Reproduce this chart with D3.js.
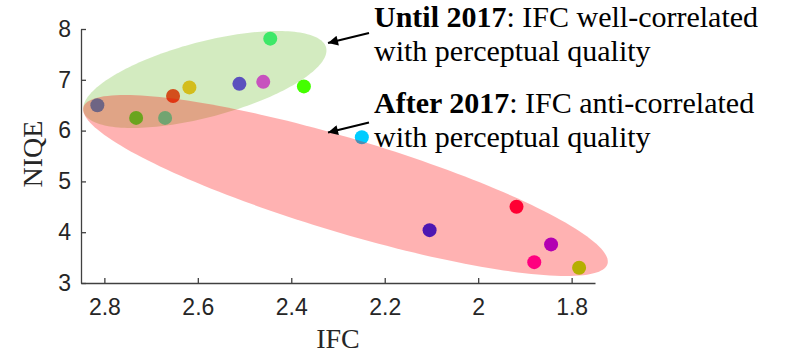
<!DOCTYPE html>
<html>
<head>
<meta charset="utf-8">
<script src="https://cdn.jsdelivr.net/npm/d3@7"></script>
<style>
  body { margin: 0; background: #fff; }
  svg { display: block; }
</style>
</head>
<body>
<svg id="chart"></svg>
<script>
// IFC vs NIQE for each method
const ifc  = [2.815, 2.732, 2.670, 2.653, 2.618, 2.511, 2.460, 2.445, 2.373, 2.249, 2.104, 1.918, 1.844, 1.880, 1.784];
const niqe = [6.50, 6.25, 6.25, 6.68, 6.85, 6.92, 6.96, 7.81, 6.87, 5.87, 4.04, 4.50, 3.76, 3.41, 3.30];
const pointColors = ['#187efc', '#0eff2c', '#1effd5', '#ff1f15', '#ffbd15', '#5422fc', '#ee25fc', '#2afb81',
  '#44ff00', '#00ccff', '#0022ff', '#ff0049', '#9200ff', '#ff00b7', '#95fb00'];

const xTicks = [2.8, 2.6, 2.4, 2.2, 2, 1.8];
const yTicks = [3, 4, 5, 6, 7, 8];

// ellipses: centre (IFC, NIQE), major and minor half-axis vectors in data units
const groups = ['until2017', 'after2017'];
const ellCentre = [[2.585, 7.006], [2.284, 4.919]];
const ellMajor = [[-0.2595, 0.630], [-0.5607, -1.545]];
const ellMinor = [[-0.0206, -0.717], [0.0289, -0.886]];
const ellColor = ['rgb(108,188,45)', 'rgb(255,0,0)'];

const labelsBold = ['Until 2017', 'After 2017'];
const labelsRest = [': IFC well-correlated', ': IFC anti-correlated'];
const labelsLine2 = ['with perceptual quality', 'with perceptual quality'];

const width = 789, height = 360;
const margin = { top: 29, left: 81, right: 194, bottom: 77 };

var svg = d3.select('#chart').attr('width', width).attr('height', height);

var x = d3.scaleLinear().domain([2.85, 1.75]).range([margin.left, width - margin.right]);
var y = d3.scaleLinear().domain([3, 8]).range([height - margin.bottom, margin.top]);

// points first, the translucent ellipses sit on top of them
svg.append('g')
    .selectAll('circle')
    .data(ifc)
    .enter()
    .append('circle')
    .attr('cx', d => x(d))
    .attr('cy', (d, i) => y(niqe[i]))
    .attr('r', 7)
    .attr('fill', (d, i) => pointColors[i]);

var t = d3.range(0, 2 * Math.PI, Math.PI / 90);
var ellLine = d3.line().curve(d3.curveLinearClosed);
svg.append('g')
    .selectAll('path')
    .data(groups)
    .enter()
    .append('path')
    .attr('d', (g, i) => ellLine(t.map(a => [
        x(ellCentre[i][0] + ellMajor[i][0] * Math.cos(a) + ellMinor[i][0] * Math.sin(a)),
        y(ellCentre[i][1] + ellMajor[i][1] * Math.cos(a) + ellMinor[i][1] * Math.sin(a))
    ])))
    .attr('fill', (g, i) => ellColor[i])
    .attr('fill-opacity', 0.3);

// axes, MATLAB style: ticks pointing inwards
var axisColor = '#404040';
var xAxis = svg.append('g')
    .attr('transform', `translate(0,${height - margin.bottom})`)
    .call(d3.axisBottom(x).tickValues(xTicks).tickSizeInner(-5).tickSizeOuter(0).tickPadding(16).tickFormat(d3.format('')));
var yAxis = svg.append('g')
    .attr('transform', `translate(${margin.left},0)`)
    .call(d3.axisLeft(y).tickValues(yTicks).tickSizeInner(-5).tickSizeOuter(0).tickPadding(10).tickFormat(d3.format('')));

[xAxis, yAxis].forEach(function (a) {
    a.select('.domain').attr('stroke', axisColor).attr('stroke-width', 1.3);
    a.selectAll('.tick line').attr('stroke', axisColor).attr('stroke-width', 1.3);
    a.selectAll('.tick text')
        .attr('fill', '#262626')
        .style('font-family', '"Liberation Sans", Arial, sans-serif')
        .style('font-size', '23px');
});

var serif = '"Liberation Serif", "Times New Roman", serif';
svg.append('text')
    .attr('x', 338).attr('y', 348)
    .attr('text-anchor', 'middle')
    .style('font-family', serif).style('font-size', '28px').attr('fill', '#262626')
    .text('IFC');
svg.append('text')
    .attr('transform', 'translate(42,154) rotate(-90)')
    .attr('text-anchor', 'middle')
    .style('font-family', serif).style('font-size', '28px').attr('fill', '#262626')
    .text('NIQE');

// annotations with arrows
svg.append('defs').append('marker')
    .attr('id', 'head')
    .attr('viewBox', '0 0 10 10')
    .attr('refX', 10).attr('refY', 5)
    .attr('markerWidth', 14).attr('markerHeight', 10)
    .attr('markerUnits', 'userSpaceOnUse')
    .attr('orient', 'auto')
    .append('path')
    .attr('d', 'M0,0 L10,5 L0,10 Z')
    .attr('fill', '#000');

var note = svg.append('g').style('font-family', serif).style('font-size', '30px');
groups.forEach(function (g, i) {
    var top = 27 + i * 86;
    var line1 = note.append('text').attr('x', 374).attr('y', top).attr('fill', '#000');
    line1.append('tspan').attr('font-weight', 'bold').text(labelsBold[i]);
    line1.append('tspan').text(labelsRest[i]);
    note.append('text').attr('x', 374).attr('y', top + 34).attr('fill', '#000').text(labelsLine2[i]);
    svg.append('line')
        .attr('x1', 369).attr('y1', 33 + i * 89.5)
        .attr('x2', 328).attr('y2', 43 + i * 89.5)
        .attr('stroke', '#000').attr('stroke-width', 2.2)
        .attr('marker-end', 'url(#head)');
});
</script>
</body>
</html>
